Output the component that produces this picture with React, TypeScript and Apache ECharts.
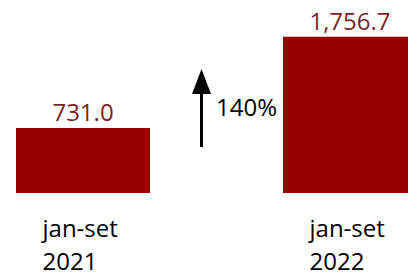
import React, { useEffect, useRef } from "react";
import * as echarts from "echarts";

const categories = ["jan-set\n2021", "jan-set\n2022"];
const values = [731.0, 1756.7];
const changeLabel = "140%";

const FONT = "'Open Sans', 'Noto Sans', sans-serif";

export default function App() {
  const ref = useRef<HTMLDivElement>(null);
  useEffect(() => {
    if (!ref.current) return;
    const chart = echarts.init(ref.current, undefined, { renderer: "svg" });
    chart.setOption({
      animation: false,
      grid: {
        left: -50.5,
        right: -75.5,
        top: 0,
        bottom: 82,
        containLabel: false,
        outerBoundsMode: "none",
      },
      xAxis: {
        type: "category",
        data: categories,
        axisLine: { show: false },
        axisTick: { show: false },
        axisLabel: {
          margin: 13.5,
          formatter: (v: string) => {
            const [l1, l2] = v.split("\n");
            return `{a|${l1}}\n{b|${l2}}`;
          },
          rich: {
            a: {
              fontFamily: FONT,
              fontSize: 24,
              lineHeight: 42,
              color: "#000",
              width: 81,
              align: "left",
            },
            b: {
              fontFamily: FONT,
              fontSize: 24,
              lineHeight: 24,
              color: "#000",
              width: 81,
              align: "left",
            },
          },
        },
      },
      yAxis: {
        type: "value",
        min: 0,
        max: 2170,
        show: false,
        splitLine: { show: false },
      },
      series: [
        {
          type: "bar",
          data: values,
          barWidth: 134,
          itemStyle: { color: "#990000" },
          label: {
            show: true,
            position: "top",
            distance: 4,
            fontFamily: FONT,
            fontSize: 24,
            color: "#7A1F1F",
            formatter: (p: any) =>
              p.value.toLocaleString("en-US", {
                minimumFractionDigits: 1,
                maximumFractionDigits: 1,
              }),
          },
        },
      ],
      graphic: [
        {
          type: "rect",
          shape: { x: 200, y: 90, width: 3, height: 57 },
          style: { fill: "#000" },
          z: 100,
        },
        {
          type: "polygon",
          shape: {
            points: [
              [201.5, 69],
              [211, 94],
              [192, 94],
            ],
          },
          style: { fill: "#000" },
          z: 100,
        },
        {
          type: "text",
          x: 216,
          y: 106,
          style: {
            text: changeLabel,
            fontFamily: FONT,
            fontSize: 24,
            fill: "#000",
            textVerticalAlign: "middle",
          },
          z: 100,
        },
      ],
    });
    return () => chart.dispose();
  }, []);
  return <div ref={ref} style={{ width: 408, height: 275, position: "absolute", left: 0, top: 0 }} />;
}
